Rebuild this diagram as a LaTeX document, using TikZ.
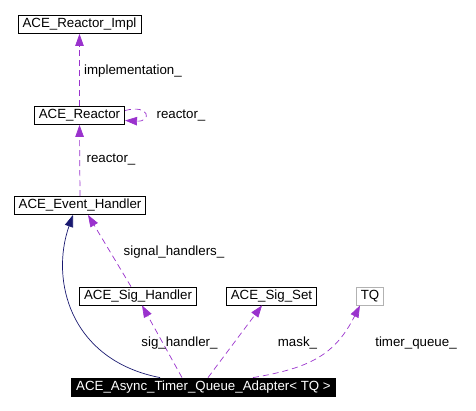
\documentclass[tikz,border=0pt]{standalone}
\usepackage{fontspec}
\setmainfont{Liberation Sans}
\usetikzlibrary{arrows.meta}
\definecolor{usepurple}{HTML}{9A32CD}
\definecolor{inhnavy}{HTML}{191970}

\begin{document}
\begin{tikzpicture}[x=1pt, y=-1pt,
  txt/.style={font=\fontsize{13.3}{15}\selectfont},
  cls/.style={txt, draw=black, fill=white, line width=0.8pt, inner xsep=4.5pt, inner ysep=0pt, minimum height=18pt},
  tmpl/.style={cls, draw=gray!60},
  focus/.style={cls, fill=black, text=white},
  usage/.style={draw=usepurple, dash pattern=on 6pt off 4pt, line width=0.7pt, -{Triangle[length=12pt, width=8.5pt]}},
  inherit/.style={draw=inhnavy, line width=0.7pt, -{Triangle[length=12pt, width=8.5pt]}},
  lbl/.style={txt, inner sep=0pt}
]
\useasboundingbox (0,0) rectangle (476,411);

% Classes
\node[cls] (impl) at (79.5,24.5) {ACE\_Reactor\_Impl};
\node[cls] (rct) at (79.5,115.5) {ACE\_Reactor};
\node[cls] (evh) at (80,205.5) {ACE\_Event\_Handler};
\node[cls] (sgh) at (138,296) {ACE\_Sig\_Handler};
\node[cls] (sgs) at (271.5,296) {ACE\_Sig\_Set};
\node[tmpl] (tq) at (370,296) {TQ};
\node[focus] (adp) at (203.5,387) {ACE\_Async\_Timer\_Queue\_Adapter< TQ >};

% Reactor chain
\draw[usage] (rct.north) -- (impl.south);
\draw[usage] (evh.north) -- (rct.south);
\draw[usage] ([yshift=5pt]rct.east) .. controls (150,104) and (152,122) .. ([yshift=-5pt]rct.east);

% Inheritance
\draw[inherit] ([xshift=-43.5pt]adp.north) .. controls (70,360) and (50,280) .. ([xshift=-7pt]evh.south);

% Members
\draw[usage] ([xshift=-7pt]sgh.north) -- ([xshift=8pt]evh.south);
\draw[usage] ([xshift=-21.5pt]adp.north) -- ([xshift=4pt]sgh.south);
\draw[usage] ([xshift=4.5pt]adp.north) -- ([xshift=-9.5pt]sgs.south);
\draw[usage] ([xshift=49.5pt]adp.north) .. controls (310,368) and (335,355) .. ([xshift=-10pt]tq.south);

% Labels
\node[lbl] (limpl) at (133,71) {implementation\_};
\node[lbl] (lself) at (181,116) {reactor\_};
\node[lbl] (lrct) at (111,160) {reactor\_};
\node[lbl] (lsig) at (174,252) {signal\_handlers\_};
\node[lbl] (lsgh) at (179.5,343) {sig\_handler\_};
\node[lbl] (lmask) at (297.5,343) {mask\_};
\node[lbl] (ltq) at (416,343) {timer\_queue\_};

\end{tikzpicture}
\end{document}
